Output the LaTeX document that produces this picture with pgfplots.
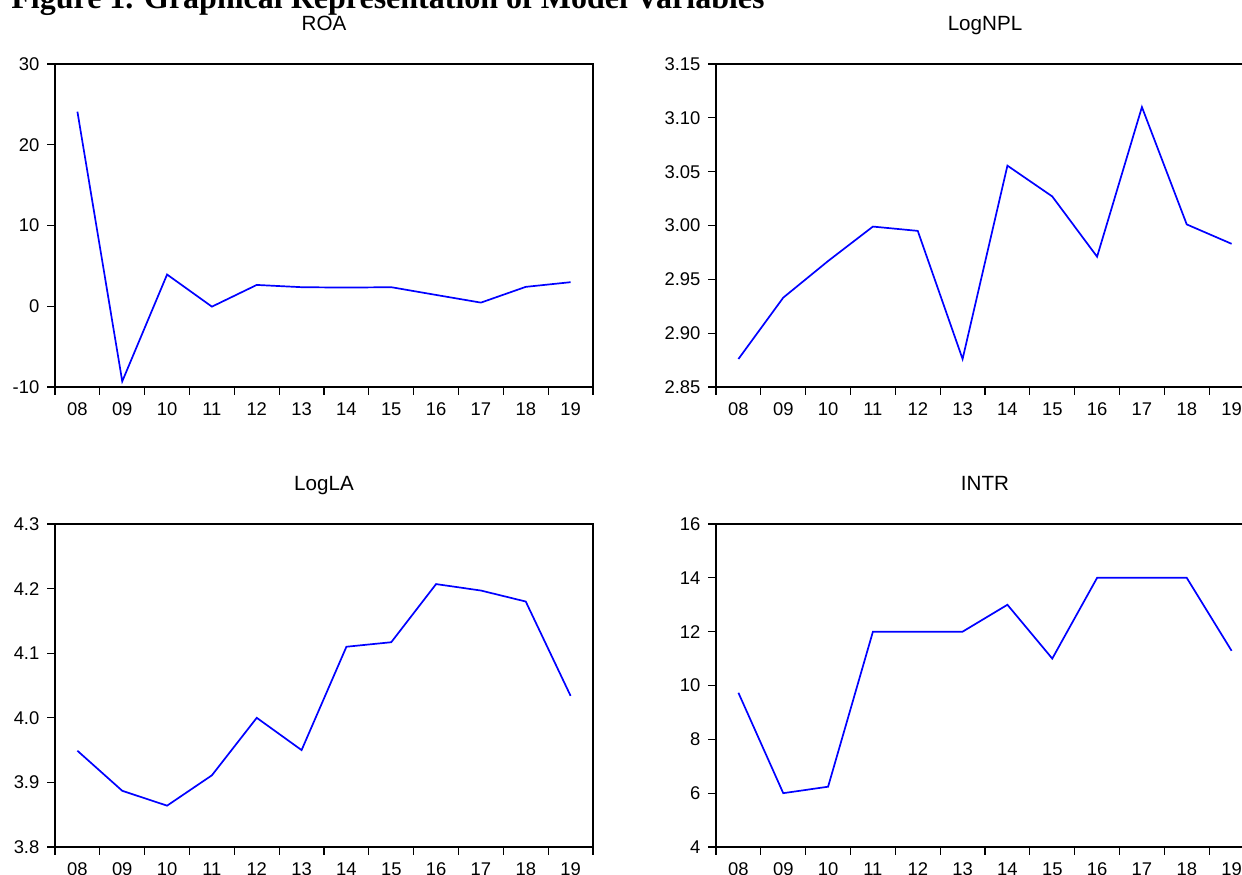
\documentclass[border=0pt]{standalone}
\usepackage{pgfplots}
\pgfplotsset{compat=1.18}
\usepackage{fontspec}
\setmainfont{Liberation Sans}
\newfontfamily\titlefont{Liberation Serif}
\definecolor{lineblue}{RGB}{0,0,255}
\pgfplotsset{
  panel/.style={
    scale only axis,
    width=269pt, height=161.5pt,
    anchor=south west,
    xmin=-0.5, xmax=11.5,
    xtick={-0.5,0.5,...,11.5},
    x tick label as interval,
    xticklabels={08,09,10,11,12,13,14,15,16,17,18,19},
    tick align=outside,
    tick pos=left,
    major tick length=3.8pt,
    axis line style={black, line width=0.75pt},
    tick style={black, line width=0.6pt},
    tick label style={font=\fontsize{9.2}{11}\selectfont},
    xticklabel style={yshift=-0.5pt},
    yticklabel style={xshift=-0.5pt},
    title style={anchor=base, yshift=10.7pt, font=\fontsize{10.3}{12}\selectfont},
    no markers,
    cycle list={{lineblue}},
    every axis plot post/.append style={line width=0.85pt, line join=miter},
  }
}
\begin{document}
\begin{tikzpicture}
\node[anchor=base west, inner sep=0pt, font=\titlefont\bfseries\fontsize{16}{19}\selectfont] at (5.5pt,432.85pt) {Figure 1. Graphical Representation of Model Variables};

% ROA
\begin{axis}[panel, at={(27.5pt,243.5pt)}, title={ROA},
  ymin=-10, ymax=30, ytick={-10,0,10,20,30}, yticklabels={-10,0,10,20,30}]
\addplot coordinates {(0,24.1) (1,-9.3) (2,3.93) (3,-0.05) (4,2.64) (5,2.36) (6,2.31) (7,2.36) (8,1.4) (9,0.45) (10,2.4) (11,2.98)};
\end{axis}

% LogNPL
\begin{axis}[panel, at={(358pt,243.5pt)}, title={LogNPL},
  ymin=2.85, ymax=3.15, ytick={2.85,2.90,2.95,3.00,3.05,3.10,3.15},
  yticklabels={2.85,2.90,2.95,3.00,3.05,3.10,3.15}]
\addplot coordinates {(0,2.876) (1,2.933) (2,2.967) (3,2.999) (4,2.995) (5,2.876) (6,3.0556) (7,3.027) (8,2.971) (9,3.110) (10,3.001) (11,2.983)};
\end{axis}

% LogLA
\begin{axis}[panel, at={(27.5pt,13.5pt)}, title={LogLA},
  ymin=3.8, ymax=4.3, ytick={3.8,3.9,4.0,4.1,4.2,4.3},
  yticklabels={3.8,3.9,4.0,4.1,4.2,4.3}]
\addplot coordinates {(0,3.949) (1,3.887) (2,3.864) (3,3.911) (4,4.000) (5,3.950) (6,4.110) (7,4.117) (8,4.207) (9,4.197) (10,4.180) (11,4.034)};
\end{axis}

% INTR
\begin{axis}[panel, at={(358pt,13.5pt)}, title={INTR},
  ymin=4, ymax=16, ytick={4,6,8,10,12,14,16},
  yticklabels={4,6,8,10,12,14,16}]
\addplot coordinates {(0,9.73) (1,6.0) (2,6.24) (3,12) (4,12) (5,12) (6,13) (7,11) (8,14) (9,14) (10,14) (11,11.29)};
\end{axis}

\pgfresetboundingbox
\useasboundingbox (0,0) rectangle (621pt,437pt);
\end{tikzpicture}
\end{document}
